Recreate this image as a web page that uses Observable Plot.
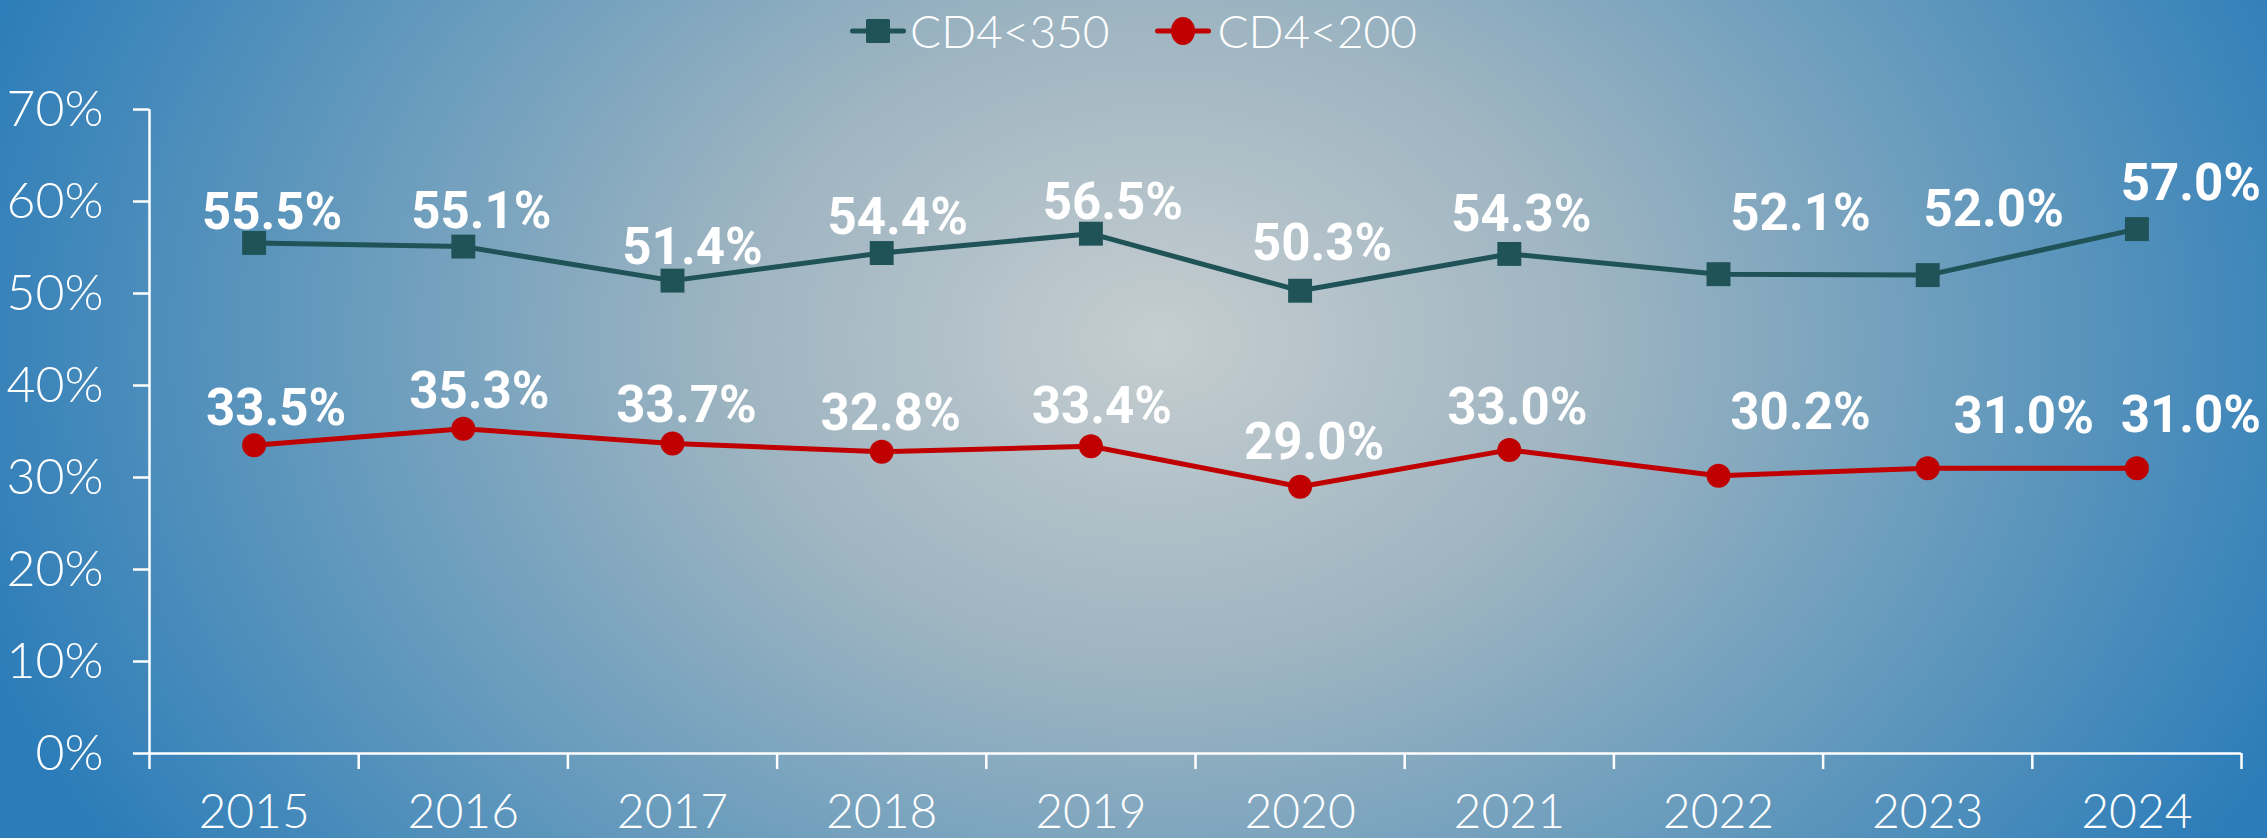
<!DOCTYPE html>
<html>
<head>
<meta charset="utf-8">
<script src="https://cdn.jsdelivr.net/npm/d3@7"></script>
<script src="https://cdn.jsdelivr.net/npm/@observablehq/plot@0.6"></script>
<style>
  html, body { margin: 0; padding: 0; }
  #chart {
    width: 2267px; height: 838px; position: relative; overflow: hidden;
    background: radial-gradient(ellipse 1250px 950px at 1160px 340px,
      #c5cdd0 0%, #9db4c1 35%, #5f97bc 70%, #2b7cb9 100%);
  }
  #legend {
    height: 62px; display: flex; justify-content: center; align-items: center;
    font-family: Lato, sans-serif; font-weight: 300; font-size: 46px; color: #fff;
  }
  .item { display: flex; align-items: center; }
  .item svg { display: block; }
  #plot svg { display: block; }
</style>
</head>
<body>
<div id="chart">
  <div id="legend"></div>
  <div id="plot"></div>
</div>
<script>
// ---- data ----
const years = [2015, 2016, 2017, 2018, 2019, 2020, 2021, 2022, 2023, 2024];
const cd4Below350 = [55.5, 55.1, 51.4, 54.4, 56.5, 50.3, 54.3, 52.1, 52.0, 57.0];
const cd4Below200 = [33.5, 35.3, 33.7, 32.8, 33.4, 29.0, 33.0, 30.2, 31.0, 31.0];
const seriesNames = ["CD4<350", "CD4<200"];
const yTickValues = [0, 10, 20, 30, 40, 50, 60, 70];

// ---- layout / style (label nudges, in px) ----
const dx350 = [18, 18, 20, 16, 22, 22, 12, 82, 66, 54];
const lift350 = [14, 19, 17, 19, 15, 31, 23, 44, 49, 29];
const dx200 = [22, 16, 14, 9, 11, 14, 8, 82, 96, 54];
const lift200 = [20, 21, 21, 22, 23, 28, 26, 47, 35, 36];
const colors = ["#1f5357", "#c00000"];

const rows350 = years.map((year, i) => ({year, value: cd4Below350[i]}));
const rows200 = years.map((year, i) => ({year, value: cd4Below200[i]}));
const boundaries = years.map(y => y - 0.5).concat([years[years.length - 1] + 0.5]);

// ---- legend ----
const legend = document.getElementById("legend");
seriesNames.forEach((name, k) => {
  const item = document.createElement("div");
  item.className = "item";
  item.style.marginLeft = k === 0 ? "0px" : "45px";
  const marker = k === 0
    ? `<rect x="16" y="3" width="24" height="24" rx="1.5" fill="${colors[k]}"/>`
    : `<ellipse cx="28" cy="15" rx="12" ry="14" fill="${colors[k]}"/>`;
  item.innerHTML =
    `<svg width="56" height="30" viewBox="0 0 56 30"><line x1="2.5" y1="15" x2="53.5" y2="15" stroke="${colors[k]}" stroke-width="5" stroke-linecap="round"/>${marker}</svg>` +
    `<span style="margin-left:${k === 0 ? 4 : 7}px;line-height:1">${name}</span>`;
  legend.appendChild(item);
});

// ---- chart ----
const textStyle = {fill: "white", fontSize: 51, fontWeight: 700, fontFamily: "Roboto", lineAnchor: "bottom"};
const labels = (rows, dxs, lifts) => rows.map((d, i) =>
  Plot.text([d], {x: "year", y: "value", text: r => r.value.toFixed(1) + "%", dx: dxs[i], dy: -lifts[i], ...textStyle})
);

const plot = Plot.plot({
  width: 2267,
  height: 776,
  marginLeft: 149,
  marginRight: 26,
  marginTop: 47,
  marginBottom: 85,
  style: {background: "transparent", color: "white", fontFamily: "Lato", fontWeight: 300, overflow: "visible"},
  x: {type: "linear", domain: [boundaries[0], boundaries[boundaries.length - 1]], label: null},
  y: {domain: [0, 70], label: null},
  marks: [
    Plot.axisY({ticks: yTickValues, tickSize: 16, tickPadding: 30, tickFormat: d => d + "%", fontSize: 50, strokeWidth: 2.5, fontWeight: 300, label: null}),
    Plot.axisX({ticks: boundaries, tickSize: 16, tickFormat: () => "", strokeWidth: 2.5, label: null}),
    Plot.axisX({ticks: years, tickSize: 0, tickPadding: 40, tickFormat: d => String(d), fontSize: 48, fontWeight: 300, label: null}),
    Plot.ruleX([boundaries[0]], {y1: 0, y2: 70, stroke: "white", strokeWidth: 2.5}),
    Plot.ruleY([0], {stroke: "white", strokeWidth: 2.5}),
    Plot.line(rows350, {x: "year", y: "value", stroke: colors[0], strokeWidth: 5}),
    Plot.line(rows200, {x: "year", y: "value", stroke: colors[1], strokeWidth: 5}),
    Plot.dot(rows350, {x: "year", y: "value", symbol: "square", r: 13.5, fill: colors[0], stroke: "none"}),
    Plot.dot(rows200, {x: "year", y: "value", symbol: "circle", r: 12, fill: colors[1], stroke: "none"}),
    ...labels(rows350, dx350, lift350),
    ...labels(rows200, dx200, lift200)
  ]
});
document.getElementById("plot").appendChild(plot);
</script>
</body>
</html>
